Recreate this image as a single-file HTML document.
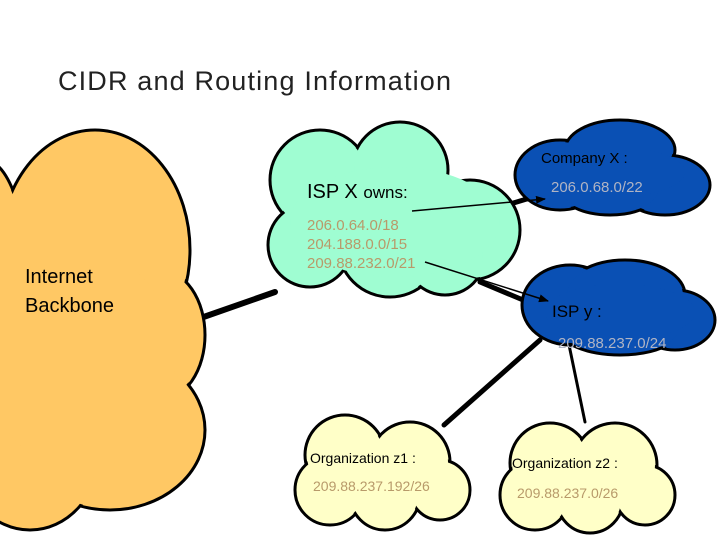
<!DOCTYPE html>
<html><head><style>
body{margin:0;background:#fff;width:720px;height:540px;overflow:hidden}
svg{display:block}
text{font-family:"Liberation Sans",sans-serif}
</style></head><body>
<svg width="720" height="540" viewBox="0 0 720 540">
<text x="58" y="90" font-size="27" fill="#222" textLength="393" lengthAdjust="spacing">CIDR and Routing Information</text>
<defs>
<marker id="ah" markerWidth="10" markerHeight="8" refX="9" refY="4" orient="auto" markerUnits="userSpaceOnUse"><path d="M0,0 L10,4 L0,8 z" fill="#000"/></marker>
</defs>
<g stroke="#000" stroke-linecap="round">
<line x1="195" y1="320" x2="275" y2="292" stroke-width="6"/>
<line x1="480" y1="282" x2="535" y2="305" stroke-width="5"/>
<line x1="490" y1="210" x2="540" y2="195" stroke-width="5"/>
<line x1="540" y1="340" x2="444" y2="425" stroke-width="5"/>
<line x1="568" y1="340" x2="585" y2="422" stroke-width="3"/>
</g>
<g>
<g fill="#ffc864" stroke="#000" stroke-width="3">
<ellipse cx="-15" cy="300" rx="45" ry="140"/>
<ellipse cx="95" cy="250" rx="95" ry="120"/>
<ellipse cx="160" cy="335" rx="45" ry="65"/>
<ellipse cx="110" cy="430" rx="95" ry="80"/>
<ellipse cx="30" cy="450" rx="70" ry="80"/>
</g>
<g fill="#ffc864">
<ellipse cx="-15" cy="300" rx="43" ry="138"/>
<ellipse cx="95" cy="250" rx="93" ry="118"/>
<ellipse cx="160" cy="335" rx="43" ry="63"/>
<ellipse cx="110" cy="430" rx="93" ry="78"/>
<ellipse cx="30" cy="450" rx="68" ry="78"/>
<ellipse cx="80" cy="360" rx="95" ry="110"/>
</g>
</g>
<g>
<g fill="#9ffdd2" stroke="#000" stroke-width="3">
<circle cx="320" cy="180" r="50"/><circle cx="400" cy="170" r="48"/><circle cx="470" cy="230" r="50"/>
<circle cx="310" cy="245" r="42"/><circle cx="390" cy="245" r="52"/><circle cx="445" cy="255" r="40"/>
</g>
<g fill="#9ffdd2">
<circle cx="320" cy="180" r="48"/><circle cx="400" cy="170" r="46"/><circle cx="470" cy="230" r="48"/>
<circle cx="310" cy="245" r="40"/><circle cx="390" cy="245" r="50"/><circle cx="445" cy="255" r="38"/>
<ellipse cx="395" cy="222" rx="105" ry="55"/>
</g>
</g>
<g>
<g fill="#0a50b4" stroke="#000" stroke-width="3">
<ellipse cx="560" cy="175" rx="45" ry="35"/><ellipse cx="620" cy="150" rx="55" ry="30"/><ellipse cx="665" cy="185" rx="45" ry="30"/><ellipse cx="610" cy="190" rx="50" ry="25"/>
</g>
<g fill="#0a50b4">
<ellipse cx="560" cy="175" rx="43" ry="33"/><ellipse cx="620" cy="150" rx="53" ry="28"/><ellipse cx="665" cy="185" rx="43" ry="28"/><ellipse cx="610" cy="190" rx="48" ry="23"/>
<ellipse cx="615" cy="172" rx="70" ry="25"/>
</g>
</g>
<g>
<g fill="#0a50b4" stroke="#000" stroke-width="3">
<ellipse cx="570" cy="305" rx="48" ry="40"/><ellipse cx="625" cy="295" rx="60" ry="35"/><ellipse cx="675" cy="320" rx="40" ry="30"/><ellipse cx="620" cy="330" rx="60" ry="25"/>
</g>
<g fill="#0a50b4">
<ellipse cx="570" cy="305" rx="46" ry="38"/><ellipse cx="625" cy="295" rx="58" ry="33"/><ellipse cx="675" cy="320" rx="38" ry="28"/><ellipse cx="620" cy="330" rx="58" ry="23"/>
<ellipse cx="620" cy="312" rx="75" ry="28"/>
</g>
</g>
<g>
<g fill="#ffffc8" stroke="#000" stroke-width="3">
<circle cx="345" cy="455" r="40"/><circle cx="410" cy="462" r="40"/><circle cx="330" cy="490" r="35"/><circle cx="385" cy="495" r="35"/><circle cx="440" cy="490" r="30"/>
</g>
<g fill="#ffffc8">
<circle cx="345" cy="455" r="38"/><circle cx="410" cy="462" r="38"/><circle cx="330" cy="490" r="33"/><circle cx="385" cy="495" r="33"/><circle cx="440" cy="490" r="28"/>
<ellipse cx="385" cy="477" rx="70" ry="30"/>
</g>
</g>
<g>
<g fill="#ffffc8" stroke="#000" stroke-width="3">
<circle cx="550" cy="463" r="40"/><circle cx="615" cy="465" r="42"/><circle cx="535" cy="495" r="35"/><circle cx="590" cy="500" r="33"/><circle cx="645" cy="495" r="30"/>
</g>
<g fill="#ffffc8">
<circle cx="550" cy="463" r="38"/><circle cx="615" cy="465" r="40"/><circle cx="535" cy="495" r="33"/><circle cx="590" cy="500" r="31"/><circle cx="645" cy="495" r="28"/>
<ellipse cx="590" cy="480" rx="70" ry="30"/>
</g>
</g>
<line x1="412" y1="211" x2="545" y2="199" stroke="#000" stroke-width="1.5" marker-end="url(#ah)"/>
<line x1="425" y1="262" x2="548" y2="301" stroke="#000" stroke-width="1.5" marker-end="url(#ah)"/>
<text x="25" y="283" font-size="20" fill="#000">Internet</text>
<text x="25" y="312" font-size="20" fill="#000">Backbone</text>
<text x="307" y="198" font-size="20" fill="#000">ISP X <tspan font-size="17">owns:</tspan></text>
<g font-size="15" fill="#b89a6a">
<text x="307" y="230">206.0.64.0/18</text>
<text x="307" y="249">204.188.0.0/15</text>
<text x="307" y="268">209.88.232.0/21</text>
</g>
<text x="541" y="163" font-size="15" fill="#000">Company X :</text>
<text x="551" y="192" font-size="15" fill="#b0b4c4">206.0.68.0/22</text>
<text x="552" y="317" font-size="17" fill="#000">ISP y :</text>
<text x="558" y="348" font-size="15" fill="#b0b4c4">209.88.237.0/24</text>
<text x="310" y="463" font-size="14" fill="#000">Organization z1 :</text>
<text x="313" y="491" font-size="14" fill="#b89a6a">209.88.237.192/26</text>
<text x="512" y="468" font-size="14" fill="#000">Organization z2 :</text>
<text x="517" y="498" font-size="14" fill="#b89a6a">209.88.237.0/26</text>
</svg>
</body></html>
